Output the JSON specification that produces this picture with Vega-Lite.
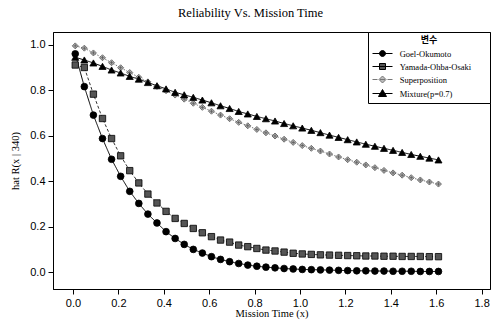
{
  "$schema": "https://vega.github.io/schema/vega-lite/v6.json",
  "width": 437,
  "height": 257,
  "autosize": {"type": "none"},
  "padding": {"left": 53, "top": 32, "right": 7, "bottom": 33},
  "background": "white",
  "title": {"text": "Reliability Vs. Mission Time", "font": "Liberation Serif", "fontSize": 12.5, "fontWeight": "normal", "color": "black", "anchor": "middle", "offset": 12, "dx": -21},
  "config": {
    "view": {"stroke": "black", "strokeWidth": 1},
    "axis": {"labelFont": "Liberation Sans", "labelFontSize": 11, "labelColor": "black", "tickColor": "black", "domainColor": "black", "tickSize": 5, "grid": false, "titleFont": "Liberation Serif", "titleFontSize": 10.5, "titleFontWeight": "normal", "titleColor": "black", "labelPadding": 3}
  },
  "resolve": {"scale": {"shape": "independent", "fill": "independent", "stroke": "independent", "size": "independent", "strokeDash": "independent"}},
  "data": {"values": [
    {"x":0.01,"series":"Goel-Okumoto","r":0.960},{"x":0.05,"series":"Goel-Okumoto","r":0.816},{"x":0.09,"series":"Goel-Okumoto","r":0.691},{"x":0.13,"series":"Goel-Okumoto","r":0.588},{"x":0.17,"series":"Goel-Okumoto","r":0.497},{"x":0.21,"series":"Goel-Okumoto","r":0.422},{"x":0.25,"series":"Goel-Okumoto","r":0.356},{"x":0.29,"series":"Goel-Okumoto","r":0.303},{"x":0.33,"series":"Goel-Okumoto","r":0.256},{"x":0.37,"series":"Goel-Okumoto","r":0.217},{"x":0.41,"series":"Goel-Okumoto","r":0.179},{"x":0.45,"series":"Goel-Okumoto","r":0.149},{"x":0.49,"series":"Goel-Okumoto","r":0.123},{"x":0.53,"series":"Goel-Okumoto","r":0.101},{"x":0.57,"series":"Goel-Okumoto","r":0.085},{"x":0.61,"series":"Goel-Okumoto","r":0.069},{"x":0.65,"series":"Goel-Okumoto","r":0.057},{"x":0.69,"series":"Goel-Okumoto","r":0.047},{"x":0.73,"series":"Goel-Okumoto","r":0.039},{"x":0.77,"series":"Goel-Okumoto","r":0.032},{"x":0.81,"series":"Goel-Okumoto","r":0.027},{"x":0.85,"series":"Goel-Okumoto","r":0.023},{"x":0.89,"series":"Goel-Okumoto","r":0.020},{"x":0.93,"series":"Goel-Okumoto","r":0.017},{"x":0.97,"series":"Goel-Okumoto","r":0.015},{"x":1.01,"series":"Goel-Okumoto","r":0.013},{"x":1.05,"series":"Goel-Okumoto","r":0.012},{"x":1.09,"series":"Goel-Okumoto","r":0.011},{"x":1.13,"series":"Goel-Okumoto","r":0.010},{"x":1.17,"series":"Goel-Okumoto","r":0.009},{"x":1.21,"series":"Goel-Okumoto","r":0.008},{"x":1.25,"series":"Goel-Okumoto","r":0.007},{"x":1.29,"series":"Goel-Okumoto","r":0.007},{"x":1.33,"series":"Goel-Okumoto","r":0.006},{"x":1.37,"series":"Goel-Okumoto","r":0.006},{"x":1.41,"series":"Goel-Okumoto","r":0.005},{"x":1.45,"series":"Goel-Okumoto","r":0.005},{"x":1.49,"series":"Goel-Okumoto","r":0.005},{"x":1.53,"series":"Goel-Okumoto","r":0.004},{"x":1.57,"series":"Goel-Okumoto","r":0.004},{"x":1.61,"series":"Goel-Okumoto","r":0.004},
    {"x":0.01,"series":"Yamada-Ohba-Osaki","r":0.911},{"x":0.05,"series":"Yamada-Ohba-Osaki","r":0.900},{"x":0.09,"series":"Yamada-Ohba-Osaki","r":0.783},{"x":0.13,"series":"Yamada-Ohba-Osaki","r":0.676},{"x":0.17,"series":"Yamada-Ohba-Osaki","r":0.588},{"x":0.21,"series":"Yamada-Ohba-Osaki","r":0.512},{"x":0.25,"series":"Yamada-Ohba-Osaki","r":0.447},{"x":0.29,"series":"Yamada-Ohba-Osaki","r":0.393},{"x":0.33,"series":"Yamada-Ohba-Osaki","r":0.344},{"x":0.37,"series":"Yamada-Ohba-Osaki","r":0.305},{"x":0.41,"series":"Yamada-Ohba-Osaki","r":0.268},{"x":0.45,"series":"Yamada-Ohba-Osaki","r":0.237},{"x":0.49,"series":"Yamada-Ohba-Osaki","r":0.215},{"x":0.53,"series":"Yamada-Ohba-Osaki","r":0.193},{"x":0.57,"series":"Yamada-Ohba-Osaki","r":0.174},{"x":0.61,"series":"Yamada-Ohba-Osaki","r":0.157},{"x":0.65,"series":"Yamada-Ohba-Osaki","r":0.142},{"x":0.69,"series":"Yamada-Ohba-Osaki","r":0.133},{"x":0.73,"series":"Yamada-Ohba-Osaki","r":0.120},{"x":0.77,"series":"Yamada-Ohba-Osaki","r":0.113},{"x":0.81,"series":"Yamada-Ohba-Osaki","r":0.105},{"x":0.85,"series":"Yamada-Ohba-Osaki","r":0.098},{"x":0.89,"series":"Yamada-Ohba-Osaki","r":0.094},{"x":0.93,"series":"Yamada-Ohba-Osaki","r":0.089},{"x":0.97,"series":"Yamada-Ohba-Osaki","r":0.084},{"x":1.01,"series":"Yamada-Ohba-Osaki","r":0.081},{"x":1.05,"series":"Yamada-Ohba-Osaki","r":0.079},{"x":1.09,"series":"Yamada-Ohba-Osaki","r":0.077},{"x":1.13,"series":"Yamada-Ohba-Osaki","r":0.076},{"x":1.17,"series":"Yamada-Ohba-Osaki","r":0.075},{"x":1.21,"series":"Yamada-Ohba-Osaki","r":0.074},{"x":1.25,"series":"Yamada-Ohba-Osaki","r":0.073},{"x":1.29,"series":"Yamada-Ohba-Osaki","r":0.072},{"x":1.33,"series":"Yamada-Ohba-Osaki","r":0.072},{"x":1.37,"series":"Yamada-Ohba-Osaki","r":0.071},{"x":1.41,"series":"Yamada-Ohba-Osaki","r":0.071},{"x":1.45,"series":"Yamada-Ohba-Osaki","r":0.070},{"x":1.49,"series":"Yamada-Ohba-Osaki","r":0.070},{"x":1.53,"series":"Yamada-Ohba-Osaki","r":0.070},{"x":1.57,"series":"Yamada-Ohba-Osaki","r":0.069},{"x":1.61,"series":"Yamada-Ohba-Osaki","r":0.069},
    {"x":0.01,"series":"Superposition","r":0.995},{"x":0.05,"series":"Superposition","r":0.985},{"x":0.09,"series":"Superposition","r":0.964},{"x":0.13,"series":"Superposition","r":0.943},{"x":0.17,"series":"Superposition","r":0.921},{"x":0.21,"series":"Superposition","r":0.899},{"x":0.25,"series":"Superposition","r":0.878},{"x":0.29,"series":"Superposition","r":0.857},{"x":0.33,"series":"Superposition","r":0.837},{"x":0.37,"series":"Superposition","r":0.817},{"x":0.41,"series":"Superposition","r":0.798},{"x":0.45,"series":"Superposition","r":0.779},{"x":0.49,"series":"Superposition","r":0.761},{"x":0.53,"series":"Superposition","r":0.743},{"x":0.57,"series":"Superposition","r":0.725},{"x":0.61,"series":"Superposition","r":0.708},{"x":0.65,"series":"Superposition","r":0.691},{"x":0.69,"series":"Superposition","r":0.675},{"x":0.73,"series":"Superposition","r":0.659},{"x":0.77,"series":"Superposition","r":0.644},{"x":0.81,"series":"Superposition","r":0.628},{"x":0.85,"series":"Superposition","r":0.613},{"x":0.89,"series":"Superposition","r":0.599},{"x":0.93,"series":"Superposition","r":0.585},{"x":0.97,"series":"Superposition","r":0.571},{"x":1.01,"series":"Superposition","r":0.557},{"x":1.05,"series":"Superposition","r":0.545},{"x":1.09,"series":"Superposition","r":0.533},{"x":1.13,"series":"Superposition","r":0.520},{"x":1.17,"series":"Superposition","r":0.507},{"x":1.21,"series":"Superposition","r":0.495},{"x":1.25,"series":"Superposition","r":0.484},{"x":1.29,"series":"Superposition","r":0.472},{"x":1.33,"series":"Superposition","r":0.460},{"x":1.37,"series":"Superposition","r":0.448},{"x":1.41,"series":"Superposition","r":0.437},{"x":1.45,"series":"Superposition","r":0.427},{"x":1.49,"series":"Superposition","r":0.416},{"x":1.53,"series":"Superposition","r":0.406},{"x":1.57,"series":"Superposition","r":0.397},{"x":1.61,"series":"Superposition","r":0.388},
    {"x":0.01,"series":"Mixture(p=0.7)","r":0.945},{"x":0.05,"series":"Mixture(p=0.7)","r":0.933},{"x":0.09,"series":"Mixture(p=0.7)","r":0.920},{"x":0.13,"series":"Mixture(p=0.7)","r":0.905},{"x":0.17,"series":"Mixture(p=0.7)","r":0.889},{"x":0.21,"series":"Mixture(p=0.7)","r":0.876},{"x":0.25,"series":"Mixture(p=0.7)","r":0.861},{"x":0.29,"series":"Mixture(p=0.7)","r":0.849},{"x":0.33,"series":"Mixture(p=0.7)","r":0.834},{"x":0.37,"series":"Mixture(p=0.7)","r":0.820},{"x":0.41,"series":"Mixture(p=0.7)","r":0.806},{"x":0.45,"series":"Mixture(p=0.7)","r":0.791},{"x":0.49,"series":"Mixture(p=0.7)","r":0.780},{"x":0.53,"series":"Mixture(p=0.7)","r":0.769},{"x":0.57,"series":"Mixture(p=0.7)","r":0.757},{"x":0.61,"series":"Mixture(p=0.7)","r":0.745},{"x":0.65,"series":"Mixture(p=0.7)","r":0.732},{"x":0.69,"series":"Mixture(p=0.7)","r":0.720},{"x":0.73,"series":"Mixture(p=0.7)","r":0.707},{"x":0.77,"series":"Mixture(p=0.7)","r":0.696},{"x":0.81,"series":"Mixture(p=0.7)","r":0.685},{"x":0.85,"series":"Mixture(p=0.7)","r":0.675},{"x":0.89,"series":"Mixture(p=0.7)","r":0.665},{"x":0.93,"series":"Mixture(p=0.7)","r":0.654},{"x":0.97,"series":"Mixture(p=0.7)","r":0.644},{"x":1.01,"series":"Mixture(p=0.7)","r":0.634},{"x":1.05,"series":"Mixture(p=0.7)","r":0.624},{"x":1.09,"series":"Mixture(p=0.7)","r":0.614},{"x":1.13,"series":"Mixture(p=0.7)","r":0.603},{"x":1.17,"series":"Mixture(p=0.7)","r":0.593},{"x":1.21,"series":"Mixture(p=0.7)","r":0.583},{"x":1.25,"series":"Mixture(p=0.7)","r":0.573},{"x":1.29,"series":"Mixture(p=0.7)","r":0.563},{"x":1.33,"series":"Mixture(p=0.7)","r":0.554},{"x":1.37,"series":"Mixture(p=0.7)","r":0.545},{"x":1.41,"series":"Mixture(p=0.7)","r":0.536},{"x":1.45,"series":"Mixture(p=0.7)","r":0.527},{"x":1.49,"series":"Mixture(p=0.7)","r":0.518},{"x":1.53,"series":"Mixture(p=0.7)","r":0.510},{"x":1.57,"series":"Mixture(p=0.7)","r":0.502},{"x":1.61,"series":"Mixture(p=0.7)","r":0.494}
  ]},
  "encoding": {
    "x": {"field": "x", "type": "quantitative", "scale": {"domain": [-0.088, 1.837], "nice": false, "zero": false}, "axis": {"values": [0, 0.2, 0.4, 0.6, 0.8, 1.0, 1.2, 1.4, 1.6, 1.8], "format": ".1f", "title": "Mission Time (x)", "titlePadding": 0}},
    "y": {"field": "r", "type": "quantitative", "scale": {"domain": [-0.073, 1.056], "nice": false, "zero": false}, "axis": {"values": [0, 0.2, 0.4, 0.6, 0.8, 1.0], "format": ".1f", "title": "hat R(x | 340)", "titlePadding": 9}}
  },
  "layer": [
    {
      "mark": {"type": "line", "strokeWidth": 1},
      "encoding": {
        "stroke": {"field": "series", "type": "nominal", "scale": {"domain": ["Mixture(p=0.7)", "Superposition", "Yamada-Ohba-Osaki", "Goel-Okumoto"], "range": ["#000000", "#777777", "#333333", "#000000"]}, "legend": null},
        "strokeDash": {"field": "series", "type": "nominal", "scale": {"domain": ["Superposition", "Mixture(p=0.7)", "Goel-Okumoto", "Yamada-Ohba-Osaki"], "range": [[1.5, 1.5], [1, 0], [1, 0], [3, 2]]}, "legend": null}
      }
    },
    {
      "mark": {"type": "point", "filled": true, "strokeWidth": 0.8, "opacity": 1},
      "encoding": {
        "stroke": {"field": "series", "type": "nominal", "scale": {"domain": ["Superposition", "Goel-Okumoto", "Yamada-Ohba-Osaki", "Mixture(p=0.7)"], "range": ["#555555", "#000000", "#000000", "#000000"]}, "legend": null},
        "fill": {"field": "series", "type": "nominal", "scale": {"domain": ["Yamada-Ohba-Osaki", "Goel-Okumoto", "Mixture(p=0.7)", "Superposition"], "range": ["#555555", "#000000", "#000000", "#bbbbbb"]}, "legend": null},
        "size": {"field": "series", "type": "nominal", "scale": {"domain": ["Mixture(p=0.7)", "Goel-Okumoto", "Yamada-Ohba-Osaki", "Superposition"], "range": [50, 36, 36, 49]}, "legend": null},
        "shape": {"field": "series", "type": "nominal", "scale": {"domain": ["Goel-Okumoto", "Superposition", "Yamada-Ohba-Osaki", "Mixture(p=0.7)"], "range": ["circle", "M0,-1L1,0L0,1L-1,0Z M0,-0.6V0.6 M-0.6,0H0.6", "square", "triangle-up"]}, "legend": null}
      }
    },
    {
      "mark": {"type": "point", "filled": true, "opacity": 0},
      "encoding": {
        "fill": {"field": "series", "type": "nominal", "scale": {"domain": ["Goel-Okumoto", "Yamada-Ohba-Osaki", "Superposition", "Mixture(p=0.7)"], "range": ["#000000", "#555555", "#bbbbbb", "#000000"]}},
        "stroke": {"field": "series", "type": "nominal", "scale": {"domain": ["Goel-Okumoto", "Yamada-Ohba-Osaki", "Superposition", "Mixture(p=0.7)"], "range": ["#000000", "#000000", "#777777", "#000000"]}},
        "shape": {
          "field": "series", "type": "nominal",
          "scale": {"domain": ["Goel-Okumoto", "Yamada-Ohba-Osaki", "Superposition", "Mixture(p=0.7)"], "range": ["M-1,0H3M1.6,0A0.6,0.6 0 1,1 0.4,0A0.6,0.6 0 1,1 1.6,0Z M21.2,0", "M-1,0H3M0.4,-0.6H1.6V0.6H0.4Z M21.2,0", "M-1,0H0M0.5,0H1.5M2,0H3M1,-0.7L1.7,0L1,0.7L0.3,0Z M21.2,0", "M-1,0H3M1,-0.8L1.8,0.6H0.2Z M21.2,0"]},
          "legend": {
            "title": "변수", "orient": "top-right", "offset": 0, "padding": 4,
            "strokeColor": "black", "fillColor": "white",
            "titleFont": "Noto Sans CJK KR", "titleFontSize": 9, "titleFontWeight": "bold", "titleColor": "black", "titlePadding": 3, "titleAnchor": "middle",
            "labelFont": "Liberation Serif", "labelFontSize": 8.5, "labelColor": "black", "labelOffset": 16.7,
            "symbolSize": 100, "symbolOpacity": 1, "symbolStrokeWidth": 1, "rowPadding": 2
          }
        }
      }
    }
  ]
}
